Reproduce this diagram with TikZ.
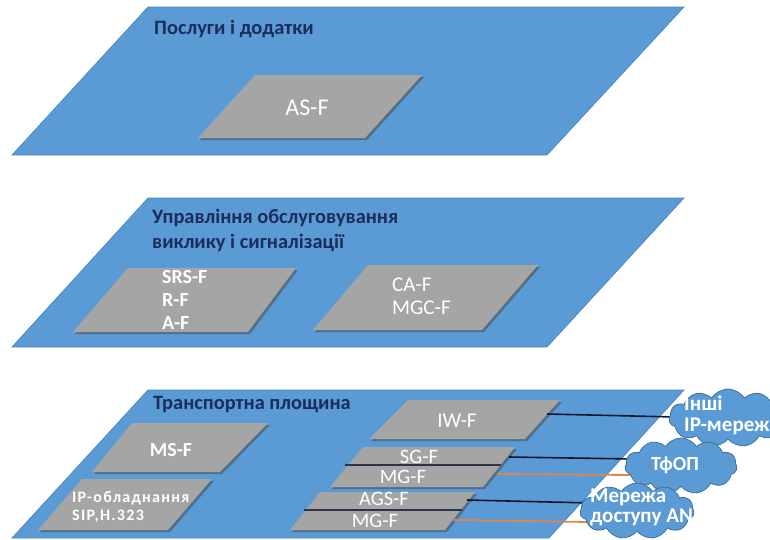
\documentclass[tikz,border=0pt]{standalone}
\usepackage{fontspec}
\setmainfont{Carlito}
\usetikzlibrary{shapes.symbols,shadows}

\definecolor{planeblue}{HTML}{5B9BD5}
\definecolor{planeedge}{HTML}{4A86C2}
\definecolor{cloudedge}{HTML}{41719C}
\definecolor{slabgray}{HTML}{A5A5A5}
\definecolor{titlenavy}{HTML}{1C2C5C}
\definecolor{linkorange}{HTML}{E0864A}
\definecolor{linkdark}{HTML}{10182E}

\pgfdeclarelayer{slabs}
\pgfdeclarelayer{links}
\pgfsetlayers{slabs,links,main}

\begin{document}
\begin{tikzpicture}[x=1pt,y=-1pt,
  plane/.style={fill=planeblue,draw=planeedge,line width=0.7pt},
  fnbox/.style={fill=slabgray,drop shadow={shadow xshift=2pt,shadow yshift=-2pt,opacity=0.55,fill=black!70}},
  divider/.style={draw=linkdark!80!slabgray,line width=1.2pt},
  title/.style={text=titlenavy,font=\bfseries\fontsize{20.4}{25}\selectfont,anchor=west,align=left,inner sep=0pt},
  lbl/.style={text=white,font=\fontsize{20.5}{23}\selectfont,inner sep=0pt},
  blbl/.style={text=white,font=\bfseries\fontsize{20}{23}\selectfont,inner sep=0pt},
  cloudnode/.style={cloud,cloud puffs=11,cloud puff arc=115,cloud ignores aspect,
    fill=planeblue,draw=cloudedge,line width=0.8pt,inner sep=0pt},
  darklink/.style={draw=linkdark,line width=1.6pt},
  orangelink/.style={draw=linkorange,line width=1.8pt}]

\useasboundingbox (0,0) rectangle (770,539);
\clip (0,0) rectangle (770,539);

\begin{pgfonlayer}{slabs}
  % the three planes
  \path[plane] (148,7) -- (684,7) -- (547,155) -- (12,155) -- cycle;
  \path[plane] (148,198) -- (684,198) -- (547,347) -- (12,347) -- cycle;
  \path[plane] (148,390) -- (684,390) -- (549,538) -- (12,538) -- cycle;

  % function blocks
  \path[fnbox] (255,75) -- (422,75) -- (365,138) -- (198,138) -- cycle;
  \path[fnbox] (128,268) -- (296,268) -- (248,332) -- (73,332) -- cycle;
  \path[fnbox] (368,265) -- (538,265) -- (482,330) -- (313,330) -- cycle;
  \path[fnbox] (132,423) -- (268,423) -- (220,472) -- (92,472) -- cycle;
  \path[fnbox] (82,479) -- (212,479) -- (168,530) -- (38,530) -- cycle;
  \path[fnbox] (408,400) -- (560,400) -- (525,439) -- (369,439) -- cycle;
  \path[fnbox] (363,447) -- (515,447) -- (483,487) -- (330,487) -- cycle;
  \path[fnbox] (320,492) -- (475,492) -- (445,530) -- (290,530) -- cycle;

  % seams inside the stacked blocks
  \draw[divider] (345,465) -- (501,465);
  \draw[divider] (304,510) -- (462,510);
\end{pgfonlayer}

% plane titles
\node[title] (tServ) at (154,29) {Послуги і додатки};
\node[title] (tCtrl) at (152,230) {Управління обслуговування\\виклику і сигналізації};
\node[title] (tTran) at (153,405) {Транспортна площина};

% block labels
\node[lbl,font=\fontsize{24}{24}\selectfont] (asf) at (307,108) {AS-F};
\node[blbl,anchor=west,align=left] (srsf) at (162,300) {SRS-F\\R-F\\A-F};
\node[lbl,anchor=west,align=left,font=\fontsize{21}{23}\selectfont] (caf) at (392,296) {CA-F\\MGC-F};
\node[blbl] (msf) at (171,450) {MS-F};
\node[blbl,anchor=west,align=left,font=\bfseries\fontsize{16}{18}\selectfont\addfontfeature{LetterSpace=8}] (ipe) at (72,507) {IP-обладнання\\SIP,H.323};
\node[lbl,font=\fontsize{21}{23}\selectfont] (iwf) at (457,421) {IW-F};
\node[lbl] (sgf) at (419,457) {SG-F};
\node[lbl] (mgfa) at (403,477) {MG-F};
\node[lbl] (agsf) at (384,499) {AGS-F};
\node[lbl] (mgfb) at (375,521) {MG-F};

% link end points
\coordinate (iwE) at (547,414);
\coordinate (sgE) at (509,457);
\coordinate (mgaE) at (497,474);
\coordinate (agsE) at (467,500);
\coordinate (mgbE) at (454,520);
\coordinate (iwT) at (676,417);
\coordinate (sgT) at (634,459);
\coordinate (mgaT) at (634,475);
\coordinate (agsT) at (592,503);
\coordinate (mgbT) at (590,522);

% external networks
\node[cloudnode,minimum width=118pt,minimum height=58pt] (ipnet) at (728,418) {};
\node[cloudnode,minimum width=112pt,minimum height=56pt] (pstn) at (681,466) {};
\node[cloudnode,minimum width=114pt,minimum height=56pt] (annet) at (637,511) {};

\node[blbl,anchor=west,align=left,font=\bfseries\fontsize{21}{21}\selectfont] (ipnetT) at (684,415) {Інші\\IP-мереж};
\node[blbl] (pstnT) at (675,465) {ТфОП};
\node[blbl,anchor=west,align=left,font=\bfseries\fontsize{21}{20}\selectfont] (annetT) at (590,507) {Мережа\\доступу AN};

\begin{pgfonlayer}{links}
  \draw[darklink] (iwE) -- (iwT);
  \draw[darklink] (sgE) -- (sgT);
  \draw[orangelink] (mgaE) -- (mgaT);
  \draw[darklink] (agsE) -- (agsT);
  \draw[orangelink] (mgbE) -- (mgbT);
\end{pgfonlayer}
\end{tikzpicture}
\end{document}
